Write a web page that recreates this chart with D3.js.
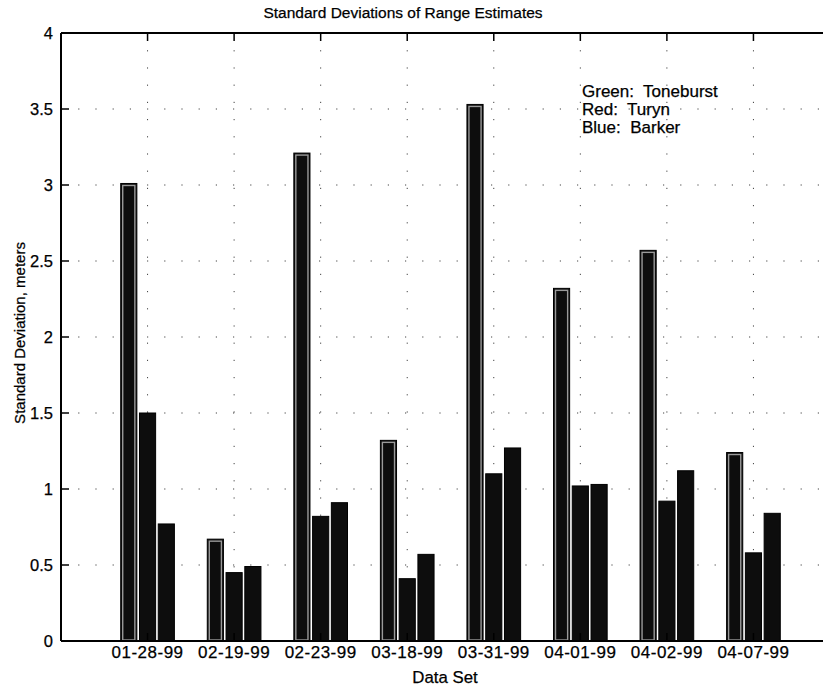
<!DOCTYPE html>
<html>
<head>
<meta charset="utf-8">
<script src="https://cdn.jsdelivr.net/npm/d3@7"></script>
<style>
  html, body { margin: 0; padding: 0; background: #fff; }
  svg { display: block; }
  text { font-family: "Liberation Sans", Arial, Helvetica, sans-serif; fill: #000; stroke: #000; stroke-width: 0.25; white-space: pre; }
</style>
</head>
<body>
<svg id="chart" width="823" height="689"></svg>
<script>
// Data sets (x categories)
const dataSets = ["01-28-99", "02-19-99", "02-23-99", "03-18-99", "03-31-99", "04-01-99", "04-02-99", "04-07-99"];
// Standard deviations (meters) for each method
const toneburst = [3.01, 0.67, 3.21, 1.32, 3.53, 2.32, 2.57, 1.24];
const turyn     = [1.50, 0.45, 0.82, 0.41, 1.10, 1.02, 0.92, 0.58];
const barker    = [0.77, 0.49, 0.91, 0.57, 1.27, 1.03, 1.12, 0.84];
const seriesNames = ["Toneburst", "Turyn", "Barker"];
const yTicks = [0, 0.5, 1, 1.5, 2, 2.5, 3, 3.5, 4];
const legendLines = ["Green:  Toneburst", "Red:  Turyn", "Blue:  Barker"];

const series = [toneburst, turyn, barker];

const svg = d3.select("#chart");
const plotL = 61, plotR = 840, plotT = 33, plotB = 641;

// x spans 0..9 so that categories sit at 1..8
const x = d3.scaleLinear().domain([0, dataSets.length + 1]).range([plotL, plotR]);
const y = d3.scaleLinear().domain([0, 4]).range([plotB, plotT]);
const unit = x(1) - x(0);

// position of the three bars inside a group
const inner = d3.scaleBand().domain(seriesNames).range([-0.31 * unit, 0.31 * unit]).paddingInner(0.14);

// dotted grid
const grid = svg.append("g").attr("stroke", "#444").attr("stroke-width", 1).attr("stroke-dasharray", "1.2,16");
yTicks.slice(1, -1).forEach(v => {
  grid.append("line").attr("x1", plotL).attr("x2", plotR).attr("y1", y(v)).attr("y2", y(v));
});
dataSets.forEach((d, i) => {
  grid.append("line").attr("x1", x(i + 1)).attr("x2", x(i + 1)).attr("y1", plotT).attr("y2", plotB);
});

// bars
const bars = svg.append("g");
dataSets.forEach((d, i) => {
  seriesNames.forEach((s, k) => {
    const v = series[k][i];
    const bx = x(i + 1) + inner(s);
    const bw = inner.bandwidth();
    const by = y(v);
    const bh = y(0) - y(v);
    bars.append("rect")
      .attr("x", bx).attr("y", by).attr("width", bw).attr("height", bh)
      .attr("fill", "#0d0d0d").attr("stroke", "#000").attr("stroke-width", 1);
    if (k === 0) {
      // lighter inner frame of the first series
      bars.append("rect")
        .attr("x", bx + 2).attr("y", by + 2).attr("width", bw - 4).attr("height", bh - 3)
        .attr("fill", "none").attr("stroke", "#9a9a9a").attr("stroke-width", 1.4);
    }
  });
});

// axes box
const axis = svg.append("g").attr("stroke", "#000").attr("stroke-width", 2).attr("fill", "none");
axis.append("line").attr("x1", plotL).attr("x2", plotR).attr("y1", plotT).attr("y2", plotT);
axis.append("line").attr("x1", plotL).attr("x2", plotR).attr("y1", plotB).attr("y2", plotB);
axis.append("line").attr("x1", plotL).attr("x2", plotL).attr("y1", plotT).attr("y2", plotB);
axis.append("line").attr("x1", plotR).attr("x2", plotR).attr("y1", plotT).attr("y2", plotB);

// y ticks (inside, both sides)
const tickLen = 8;
yTicks.forEach(v => {
  axis.append("line").attr("x1", plotL).attr("x2", plotL + tickLen).attr("y1", y(v)).attr("y2", y(v)).attr("stroke-width", 1.5);
  axis.append("line").attr("x1", plotR).attr("x2", plotR - tickLen).attr("y1", y(v)).attr("y2", y(v)).attr("stroke-width", 1.5);
  svg.append("text").attr("x", plotL - 8).attr("y", y(v)).attr("dy", "0.36em")
    .attr("text-anchor", "end").attr("font-size", 16.5).text(d3.format("")(v));
});

// x ticks (inside, top and bottom) and labels
dataSets.forEach((d, i) => {
  const tx = x(i + 1);
  axis.append("line").attr("x1", tx).attr("x2", tx).attr("y1", plotB).attr("y2", plotB - tickLen).attr("stroke-width", 1.5);
  axis.append("line").attr("x1", tx).attr("x2", tx).attr("y1", plotT).attr("y2", plotT + tickLen).attr("stroke-width", 1.5);
  svg.append("text").attr("x", tx).attr("y", plotB + 17)
    .attr("text-anchor", "middle").attr("font-size", 17).attr("letter-spacing", 0.5).text(d);
});

// titles
svg.append("text").attr("x", 403).attr("y", 18).attr("text-anchor", "middle")
  .attr("font-size", 15.5).text("Standard Deviations of Range Estimates");
svg.append("text").attr("x", 445).attr("y", 683).attr("text-anchor", "middle")
  .attr("font-size", 16.8).text("Data Set");
svg.append("text").attr("transform", "translate(25,333) rotate(-90)")
  .attr("text-anchor", "middle").attr("font-size", 15).text("Standard Deviation, meters");

// method key
legendLines.forEach((t, i) => {
  svg.append("text").attr("x", 582).attr("y", 97 + i * 18).attr("font-size", 17).text(t);
});
</script>
</body>
</html>
